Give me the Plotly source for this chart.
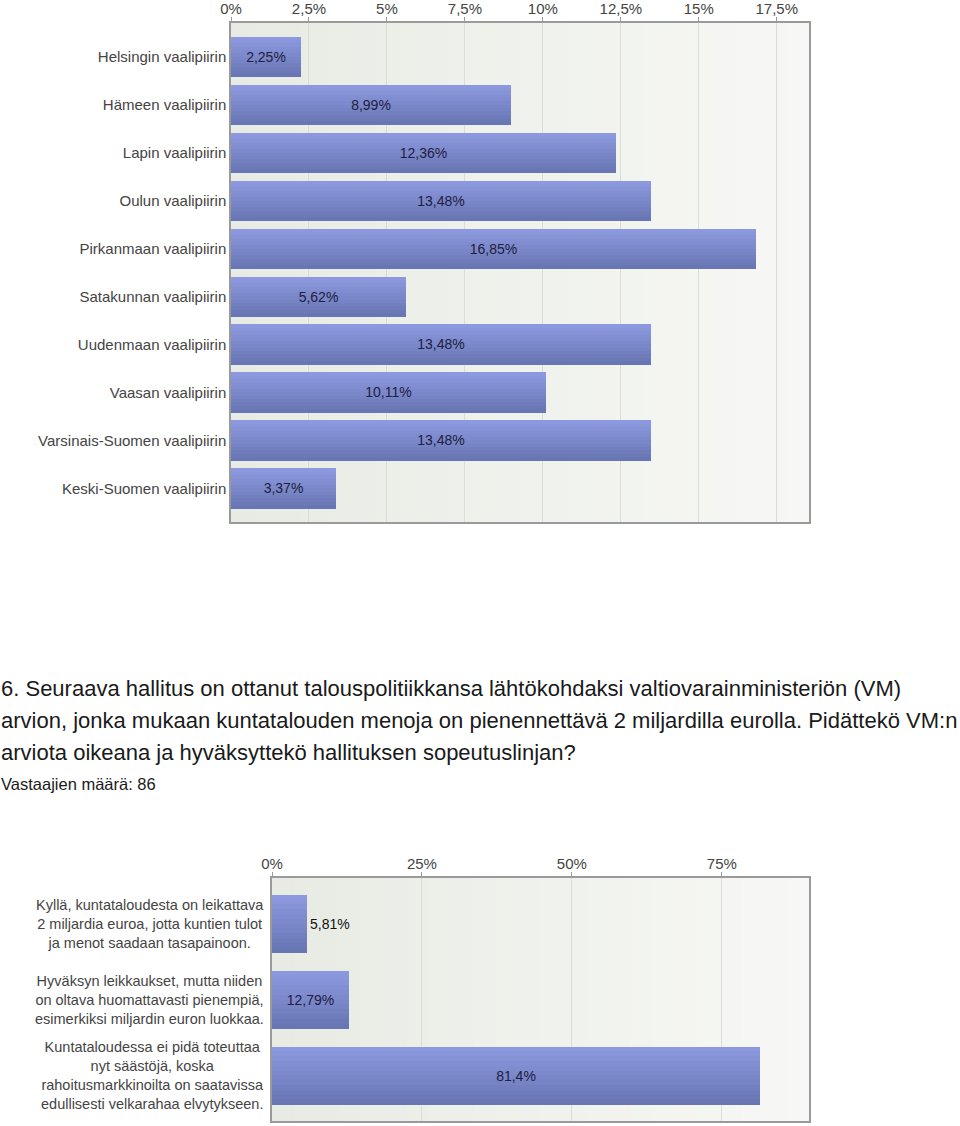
import plotly.graph_objects as go

# ---------------- data ----------------
regions = ["Helsingin vaalipiirin", "Hämeen vaalipiirin", "Lapin vaalipiirin", "Oulun vaalipiirin",
           "Pirkanmaan vaalipiirin", "Satakunnan vaalipiirin", "Uudenmaan vaalipiirin",
           "Vaasan vaalipiirin", "Varsinais-Suomen vaalipiirin", "Keski-Suomen vaalipiirin"]
region_pct = [2.25, 8.99, 12.36, 13.48, 16.85, 5.62, 13.48, 10.11, 13.48, 3.37]
top_tickvals = [0, 2.5, 5, 7.5, 10, 12.5, 15, 17.5]
top_ticktext = ["0%", "2,5%", "5%", "7,5%", "10%", "12,5%", "15%", "17,5%"]

answers = ["Kyllä, kuntataloudesta on leikattava<br>2 miljardia euroa, jotta kuntien tulot<br>ja menot saadaan tasapainoon.",
           "Hyväksyn leikkaukset, mutta niiden<br>on oltava huomattavasti pienempiä,<br>esimerkiksi miljardin euron luokkaa.",
           "Kuntataloudessa ei pidä toteuttaa<br>nyt säästöjä, koska<br>rahoitusmarkkinoilta on saatavissa<br>edullisesti velkarahaa elvytykseen."]
answer_pct = [5.81, 12.79, 81.4]
bot_tickvals = [0, 25, 50, 75]
bot_ticktext = ["0%", "25%", "50%", "75%"]

title_lines = ["6. Seuraava hallitus on ottanut talouspolitiikkansa lähtökohdaksi valtiovarainministeriön (VM)",
               "arvion, jonka mukaan kuntatalouden menoja on pienennettävä 2 miljardilla eurolla. Pidättekö VM:n",
               "arviota oikeana ja hyväksyttekö hallituksen sopeutuslinjan?"]
respondents = "Vastaajien määrä: 86"

# ---------------- style ----------------
FONT = "Arial, Liberation Sans, sans-serif"
W, H = 960, 1126
TOP_C = (0x8c, 0x99, 0xdf)
BOT_C = (0x69, 0x76, 0xb4)
N_STRIPS = 12


def fmt(v):
    return f"{v:g}".replace(".", ",") + "%"


def mix(c1, c2, t):
    return "rgb(%d,%d,%d)" % tuple(round(a + (b - a) * t) for a, b in zip(c1, c2))


fig = go.Figure()


def add_gradient_bars(cats, vals, barw, xa, ya, vmax, plot_px):
    sw = barw / N_STRIPS
    for i in range(N_STRIPS):
        fig.add_trace(go.Bar(
            y=cats, x=vals, orientation="h", xaxis=xa, yaxis=ya,
            width=sw * 1.08, offset=-barw / 2 + i * sw,
            marker=dict(color=mix(TOP_C, BOT_C, i / (N_STRIPS - 1)), line=dict(width=0)),
            hoverinfo="skip", showlegend=False))
    # label inside when the bar is wide enough in pixels, else just outside
    positions = ["inside" if v / vmax * plot_px > 50 else "outside" for v in vals]
    fig.add_trace(go.Bar(
        y=cats, x=vals, orientation="h", xaxis=xa, yaxis=ya, width=barw,
        marker=dict(color="rgba(0,0,0,0)", line=dict(width=0)),
        text=[fmt(v) for v in vals], textposition=positions, insidetextanchor="middle",
        textangle=0,
        insidetextfont=dict(family=FONT, size=14, color="#1e2040"),
        outsidetextfont=dict(family=FONT, size=14, color="#111111"),
        constraintext="none", cliponaxis=False,
        hovertemplate="%{y}: %{text}<extra></extra>", showlegend=False))


top_max = max(region_pct) * 1.1
bot_max = max(answer_pct) * 1.1

add_gradient_bars(regions, region_pct, 0.833, "x", "y", top_max, 578)
add_gradient_bars(answers, answer_pct, 0.76, "x2", "y2", bot_max, 537)

# background horizontal gradient (behind gridlines)
shapes = []
NB = 24
for xr, yr in (("x domain", "y domain"), ("x2 domain", "y2 domain")):
    for i in range(NB):
        shapes.append(dict(type="rect", xref=xr, yref=yr, x0=i / NB, x1=(i + 1) / NB + 0.002,
                           y0=0, y1=1, layer="below", line=dict(width=0),
                           fillcolor=mix((0xe8, 0xeb, 0xe4), (0xf7, 0xf8, 0xf5), i / (NB - 1))))

axis_common = dict(showline=True, mirror=True, linecolor="#9a9a9a", linewidth=1.5,
                   showgrid=True, gridcolor="#d9ddd6", gridwidth=1, zeroline=False,
                   ticks="outside", ticklen=4, tickcolor="#9a9a9a", automargin=False,
                   ticklabelstandoff=-3,
                   tickfont=dict(family=FONT, size=15, color="#444444"), fixedrange=True)

fig.update_layout(
    width=W, height=H, margin=dict(l=0, r=0, t=0, b=0, autoexpand=False),
    paper_bgcolor="white", plot_bgcolor="#eff1ec",
    barmode="overlay", bargap=0, shapes=shapes,
    font=dict(family=FONT, color="#444444"),
    xaxis=dict(domain=[231 / W, 809 / W], anchor="y", side="top", range=[0, top_max],
               tickvals=top_tickvals, ticktext=top_ticktext, **axis_common),
    yaxis=dict(domain=[1 - 522 / H, 1 - 23 / H], anchor="x", range=[9.7, -0.7],
               type="category", showline=True, mirror=True, linecolor="#9a9a9a", linewidth=1.5,
               showgrid=False, ticks="", ticklabelstandoff=0, automargin=False,
               tickfont=dict(family=FONT, size=15, color="#444444"), fixedrange=True),
    xaxis2=dict(domain=[272 / W, 809 / W], anchor="y2", side="top", range=[0, bot_max],
                tickvals=bot_tickvals, ticktext=bot_ticktext, **axis_common),
    yaxis2=dict(domain=[1 - 1121 / H, 1 - 878 / H], anchor="x2", range=[2.6, -0.6],
                type="category", showline=True, mirror=True, linecolor="#9a9a9a", linewidth=1.5,
                showgrid=False, showticklabels=False, ticks="", automargin=False,
                fixedrange=True),
)

annotations = []
for i, line in enumerate(title_lines):
    annotations.append(dict(text=line, xref="paper", yref="paper", x=0, xanchor="left",
                            y=1 - (688 + 32 * i) / H, yanchor="middle", showarrow=False,
                            borderpad=0, font=dict(family=FONT, size=22, color="#1a1a1a")))
annotations.append(dict(text=respondents, xref="paper", yref="paper", x=0, xanchor="left",
                        y=1 - 784 / H, yanchor="middle", showarrow=False, borderpad=0,
                        font=dict(family=FONT, size=16.5, color="#1a1a1a")))
for a in answers:
    annotations.append(dict(text=a, xref="paper", yref="y2", x=266 / W, xanchor="right",
                            y=a, yanchor="middle", align="center", showarrow=False,
                            font=dict(family=FONT, size=14.5, color="#444444")))
fig.update_layout(annotations=annotations)

fig.write_html("out.html")
